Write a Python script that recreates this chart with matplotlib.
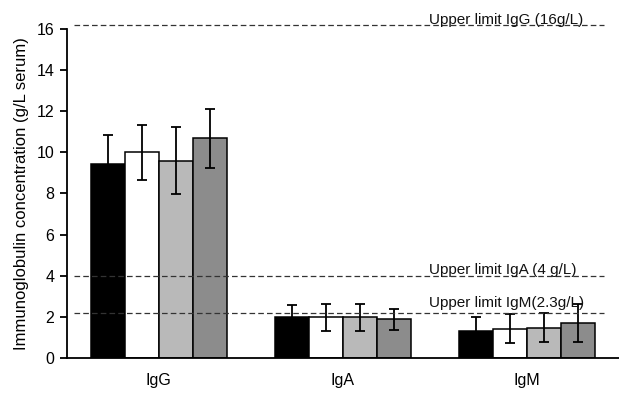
import matplotlib
matplotlib.use("Agg")
import matplotlib.pyplot as plt
import numpy as np

plt.rcParams['font.family'] = ['Liberation Sans', 'DejaVu Sans']

# data
groups = ["IgG", "IgA", "IgM"]
series_colors = ["#000000", "#ffffff", "#b9b9b9", "#8c8c8c"]
means = [
    [9.45, 2.00, 1.31],
    [10.00, 1.98, 1.43],
    [9.60, 1.98, 1.48],
    [10.68, 1.88, 1.70],
]
errors = [
    [1.38, 0.60, 0.67],
    [1.35, 0.66, 0.72],
    [1.63, 0.66, 0.70],
    [1.45, 0.50, 0.92],
]
limit_values = [16.2, 4.0, 2.2]
limit_labels = ["Upper limit IgG (16g/L)", "Upper limit IgA (4 g/L)", "Upper limit IgM(2.3g/L)"]
limit_label_y = [16.45, 4.28, 2.67]
yticks = [0, 2, 4, 6, 8, 10, 12, 14, 16]

fig = plt.figure(figsize=(6.19, 3.94), dpi=100)
ax = fig.add_axes([0.1077, 0.0914, 0.8923, 0.835])

x = np.arange(len(groups))
width = 0.185
n = len(means)
for i in range(n):
    offs = (i - (n - 1) / 2) * width
    ax.bar(x + offs, means[i], width, color=series_colors[i], edgecolor='black',
           linewidth=1.1, zorder=2)
    ax.errorbar(x + offs, means[i], yerr=errors[i], fmt='none', ecolor='black',
                elinewidth=1.3, capsize=3.6, capthick=1.3, zorder=3)

for val, lab, ly in zip(limit_values, limit_labels, limit_label_y):
    ax.plot([-0.46, 2.42], [val, val], color='#333333', linewidth=0.9,
            linestyle=(0, (4.5, 2.5)), clip_on=False, zorder=4)
    ax.text(1.469, ly, lab, fontsize=11, va='center', ha='left', color='#111111', zorder=5)

ax.set_xlim(-0.5, 2.5)
ax.set_ylim(0, 16)
ax.set_yticks(yticks)
ax.set_xticks(x)
ax.set_xticklabels(groups)
ax.tick_params(axis='x', length=0, pad=11, labelsize=11.5)
ax.tick_params(axis='y', direction='out', length=5, width=1.3, labelsize=11.5, pad=4)
ax.spines['top'].set_visible(False)
ax.spines['right'].set_visible(False)
ax.spines['left'].set_linewidth(1.3)
ax.spines['bottom'].set_linewidth(1.3)
ax.set_ylabel("Immunoglobulin concentration (g/L serum)", fontsize=12, labelpad=5)

fig.savefig("out.png", dpi=100)
